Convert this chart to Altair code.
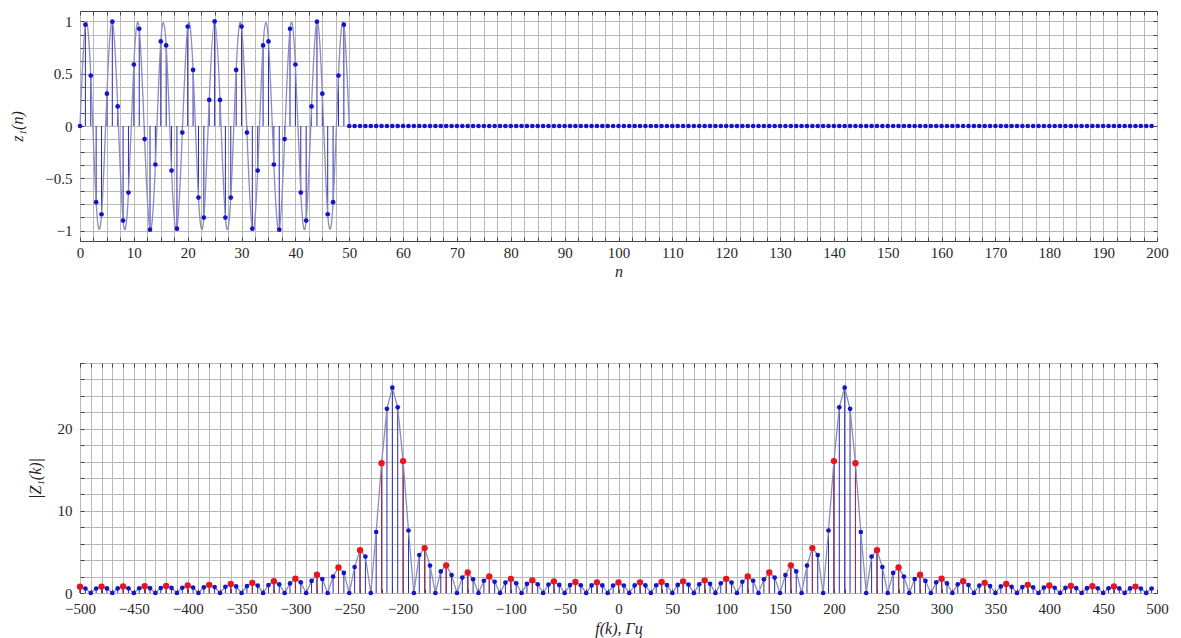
import altair as alt
import pandas as pd

FONT = "Liberation Serif"
GRID = "#b9b9b9"
EDGE = "#444444"
TXT = "#262626"
BLUE = "#1414c8"
RED = "#e8141e"
CURVE = "#8c8cbc"
BLUE_STEM = "#2a2ab4"
RED_STEM = "#a83040"

# ---------------- data: top panel, z1(n) ----------------
n_index = list(range(200))
z1_head = [
    0.0, 0.969, 0.482, -0.729, -0.844, 0.309, 0.998, 0.187, -0.905, -0.637,
    0.588, 0.930, -0.125, -0.992, -0.368, 0.809, 0.771, -0.426, -0.982, -0.063,
    0.951, 0.536, -0.685, -0.876, 0.249, 1.000, 0.249, -0.876, -0.685, 0.536,
    0.951, -0.063, -0.982, -0.426, 0.771, 0.809, -0.368, -0.992, -0.125, 0.930,
    0.588, -0.637, -0.905, 0.187, 0.998, 0.309, -0.844, -0.729, 0.482, 0.969,
]
z1_tail = [
    0.0, 0.0, 0.0, 0.0, 0.0, 0.0, 0.0, 0.0, 0.0, 0.0, 0.0, 0.0, 0.0, 0.0, 0.0,
    0.0, 0.0, 0.0, 0.0, 0.0, 0.0, 0.0, 0.0, 0.0, 0.0, 0.0, 0.0, 0.0, 0.0, 0.0,
    0.0, 0.0, 0.0, 0.0, 0.0, 0.0, 0.0, 0.0, 0.0, 0.0, 0.0, 0.0, 0.0, 0.0, 0.0,
    0.0, 0.0, 0.0, 0.0, 0.0, 0.0, 0.0, 0.0, 0.0, 0.0, 0.0, 0.0, 0.0, 0.0, 0.0,
    0.0, 0.0, 0.0, 0.0, 0.0, 0.0, 0.0, 0.0, 0.0, 0.0, 0.0, 0.0, 0.0, 0.0, 0.0,
    0.0, 0.0, 0.0, 0.0, 0.0, 0.0, 0.0, 0.0, 0.0, 0.0, 0.0, 0.0, 0.0, 0.0, 0.0,
    0.0, 0.0, 0.0, 0.0, 0.0, 0.0, 0.0, 0.0, 0.0, 0.0, 0.0, 0.0, 0.0, 0.0, 0.0,
    0.0, 0.0, 0.0, 0.0, 0.0, 0.0, 0.0, 0.0, 0.0, 0.0, 0.0, 0.0, 0.0, 0.0, 0.0,
    0.0, 0.0, 0.0, 0.0, 0.0, 0.0, 0.0, 0.0, 0.0, 0.0, 0.0, 0.0, 0.0, 0.0, 0.0,
    0.0, 0.0, 0.0, 0.0, 0.0, 0.0, 0.0, 0.0, 0.0, 0.0, 0.0, 0.0, 0.0, 0.0, 0.0,
]
z1 = z1_head + z1_tail

# ---------------- data: bottom panel, |Z1(k)| ----------------
f_200 = list(range(-500, 500, 5))
Z_200 = [
    0.776, 0.549, 0.0, 0.550,
    0.781, 0.554, 0.0, 0.559,
    0.796, 0.567, 0.0, 0.576,
    0.822, 0.587, 0.0, 0.601,
    0.861, 0.617, 0.0, 0.637,
    0.916, 0.659, 0.0, 0.686,
    0.991, 0.717, 0.0, 0.753,
    1.093, 0.795, 0.0, 0.845,
    1.235, 0.904, 0.0, 0.975,
    1.436, 1.060, 0.0, 1.166,
    1.737, 1.298, 0.0, 1.467,
    2.221, 1.691, 0.0, 1.998,
    3.110, 2.445, 0.0, 3.152,
    5.210, 4.431, 0.0, 7.424,
    15.798, 22.421, 25.0, 22.603,
    16.056, 7.606, 0.0, 4.613,
    5.470, 3.336, 0.0, 2.631,
    3.373, 2.185, 0.0, 1.880,
    2.492, 1.660, 0.0, 1.494,
    2.017, 1.366, 0.0, 1.265,
    1.729, 1.184, 0.0, 1.119,
    1.543, 1.066, 0.0, 1.024,
    1.422, 0.989, 0.0, 0.962,
    1.345, 0.942, 0.0, 0.927,
    1.303, 0.917, 0.0, 0.912,
    1.289, 0.912, 0.0, 0.917,
    1.303, 0.927, 0.0, 0.942,
    1.345, 0.962, 0.0, 0.989,
    1.422, 1.024, 0.0, 1.066,
    1.543, 1.119, 0.0, 1.184,
    1.729, 1.265, 0.0, 1.366,
    2.017, 1.494, 0.0, 1.660,
    2.492, 1.880, 0.0, 2.185,
    3.373, 2.631, 0.0, 3.336,
    5.470, 4.613, 0.0, 7.606,
    16.056, 22.603, 25.0, 22.421,
    15.798, 7.424, 0.0, 4.431,
    5.210, 3.152, 0.0, 2.445,
    3.110, 1.998, 0.0, 1.691,
    2.221, 1.467, 0.0, 1.298,
    1.737, 1.166, 0.0, 1.060,
    1.436, 0.975, 0.0, 0.904,
    1.235, 0.845, 0.0, 0.795,
    1.093, 0.753, 0.0, 0.717,
    0.991, 0.686, 0.0, 0.659,
    0.916, 0.637, 0.0, 0.617,
    0.861, 0.601, 0.0, 0.587,
    0.822, 0.576, 0.0, 0.567,
    0.796, 0.559, 0.0, 0.554,
    0.781, 0.550, 0.0, 0.549,
]
f_50 = list(range(-500, 500, 20))
Z_50 = [
    0.776, 0.781, 0.796, 0.822, 0.861, 0.916, 0.991, 1.093, 1.235, 1.436,
    1.737, 2.221, 3.110, 5.210, 15.798, 16.056, 5.470, 3.373, 2.492, 2.017,
    1.729, 1.543, 1.422, 1.345, 1.303, 1.289, 1.303, 1.345, 1.422, 1.543,
    1.729, 2.017, 2.492, 3.373, 5.470, 16.056, 15.798, 5.210, 3.110, 2.221,
    1.737, 1.436, 1.235, 1.093, 0.991, 0.916, 0.861, 0.822, 0.796, 0.781,
]

# ---------------- tables ----------------
top_df = pd.DataFrame({"n": n_index, "z": z1})
top_df["base"] = 0.0
curve_df = top_df[top_df["n"] <= 50]
stem_df = top_df[top_df["n"] < 50]

blue_df = pd.DataFrame({"f": f_200, "Z": Z_200})
blue_df["base"] = 0.0
red_df = pd.DataFrame({"f": f_50, "Z": Z_50})
red_df["base"] = 0.0

# ---------------- axis helpers ----------------
def label_axis(orient, values, expr, title, title_pad, label_pad):
    return alt.Axis(
        orient=orient, values=values, labelExpr=expr,
        grid=True, gridColor=GRID, gridWidth=1, gridOpacity=1,
        domain=False, ticks=True, tickSize=4, tickColor=EDGE, tickWidth=1,
        offset=-4,
        labelFont=FONT, labelFontSize=15, labelColor=TXT,
        labelPadding=label_pad, labelOverlap=False, labelFlush=False,
        title=title, titleFont=FONT, titleFontSize=16, titleFontStyle="italic",
        titleFontWeight="normal", titleColor=TXT, titlePadding=title_pad,
    )


def tick_axis(orient, values):
    return alt.Axis(
        orient=orient, values=values, labels=False, grid=False, domain=False,
        ticks=True, tickSize=4, tickColor=EDGE, tickWidth=1, offset=-4,
        title=None,
    )


# ---------------- top panel ----------------
xt_top = [i * 2.5 for i in range(81)]
yt_top = [-1 + i * 0.125 for i in range(17)]
xs_top = alt.Scale(domain=[0, 200], nice=False, zero=False)
ys_top = alt.Scale(domain=[-1.1, 1.1], nice=False, zero=False)

top_stems = alt.Chart(stem_df).mark_rule(color=BLUE_STEM, strokeWidth=1).encode(
    x=alt.X("n:Q", scale=xs_top,
            axis=label_axis("bottom", xt_top,
                            "datum.value % 10 === 0 ? format(datum.value, 'd') : ''",
                            "n", 3, 4)),
    y=alt.Y("base:Q", scale=ys_top,
            axis=label_axis("left", yt_top,
                            "datum.value % 0.5 === 0 ? format(datum.value, '~g') : ''",
                            "z₁(n)", 19, 8)),
    y2="z:Q",
)
top_curve = alt.Chart(curve_df).mark_line(
    interpolate="natural", color=CURVE, strokeWidth=1.3
).encode(
    x=alt.X("n:Q", scale=xs_top, axis=tick_axis("top", xt_top)),
    y=alt.Y("z:Q", scale=ys_top, axis=tick_axis("right", yt_top)),
)
top_pts = alt.Chart(top_df).mark_circle(size=22, color=BLUE, opacity=1).encode(
    x=alt.X("n:Q", scale=xs_top, axis=None),
    y=alt.Y("z:Q", scale=ys_top, axis=None),
)
top = alt.layer(top_stems, top_curve, top_pts).properties(width=1077, height=230)

# ---------------- bottom panel ----------------
xt_bot = [-500 + i * 10 for i in range(101)]
yt_bot = [i * 2 for i in range(15)]
xs_bot = alt.Scale(domain=[-500, 500], nice=False, zero=False)
ys_bot = alt.Scale(domain=[0, 28], nice=False, zero=False)

bot_bstems = alt.Chart(blue_df).mark_rule(color=BLUE_STEM, strokeWidth=1).encode(
    x=alt.X("f:Q", scale=xs_bot,
            axis=label_axis("bottom", xt_bot,
                            "datum.value % 50 === 0 ? format(datum.value, 'd') : ''",
                            "f(k), Гц", 4, 8)),
    y=alt.Y("base:Q", scale=ys_bot,
            axis=label_axis("left", yt_bot,
                            "datum.value % 10 === 0 ? format(datum.value, 'd') : ''",
                            "|Z₁(k)|", 14, 8)),
    y2="Z:Q",
)
bot_rstems = alt.Chart(red_df).mark_rule(color=RED_STEM, strokeWidth=1).encode(
    x=alt.X("f:Q", scale=xs_bot, axis=None),
    y=alt.Y("base:Q", scale=ys_bot, axis=None),
    y2="Z:Q",
)
bot_line = alt.Chart(blue_df).mark_line(color=CURVE, strokeWidth=1.3).encode(
    x=alt.X("f:Q", scale=xs_bot, axis=tick_axis("top", xt_bot)),
    y=alt.Y("Z:Q", scale=ys_bot, axis=tick_axis("right", yt_bot)),
)
bot_bpts = alt.Chart(blue_df).mark_circle(size=22, color=BLUE, opacity=1).encode(
    x=alt.X("f:Q", scale=xs_bot, axis=None),
    y=alt.Y("Z:Q", scale=ys_bot, axis=None),
)
bot_rpts = alt.Chart(red_df).mark_circle(size=40, color=RED, opacity=1).encode(
    x=alt.X("f:Q", scale=xs_bot, axis=None),
    y=alt.Y("Z:Q", scale=ys_bot, axis=None),
)
bottom = alt.layer(bot_bstems, bot_rstems, bot_line, bot_bpts, bot_rpts).properties(
    width=1077, height=230
)

chart = (
    alt.vconcat(top, bottom, spacing=122, bounds="flush")
    .properties(padding={"left": 9, "top": 10, "right": 12, "bottom": 2})
    .configure(background="white")
    .configure_view(stroke=EDGE, strokeWidth=1)
)

chart.save("out.html", embed_options={"renderer": "svg", "actions": False})
